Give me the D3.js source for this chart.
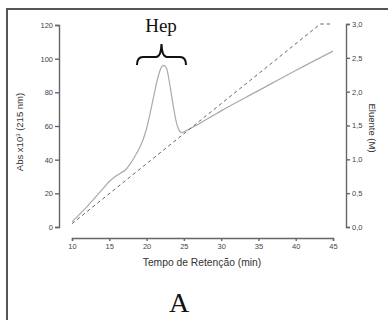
<!DOCTYPE html>
<html>
<head>
<meta charset="utf-8">
<script src="https://cdn.jsdelivr.net/npm/d3@7"></script>
<style>
  body { margin: 0; background: #fff; }
  svg { display: block; }
</style>
</head>
<body>
<div id="chart"></div>
<script>
var width = 388;
var height = 320;

// data
var absTime = [10, 11, 12, 13, 14, 15, 15.8, 16.5, 17.2, 17.8, 18.5, 19, 19.5, 20, 20.5, 21, 21.5, 22, 22.3, 22.7, 23.1, 23.5, 23.9, 24.3, 24.7, 25.2, 30, 35, 40, 45];
var absValue = [3, 7.5, 12, 17, 22, 27, 30, 32, 34, 37.5, 42.5, 46.5, 51.5, 58.5, 68, 78.5, 88.5, 95, 96, 94, 85, 74, 64, 58, 56, 57, 69, 81, 93, 104.5];
var eluTime = [10, 43.3, 45];
var eluValue = [0.05, 3.0, 3.0];
var xTicks = [10, 15, 20, 25, 30, 35, 40, 45];
var yTicks = [0, 20, 40, 60, 80, 100, 120];
var y2Ticks = [0, 0.5, 1.0, 1.5, 2.0, 2.5, 3.0];

var svg = d3.select("#chart")
    .append("svg")
    .attr("width", width)
    .attr("height", height);

// outer frame (cut off on right and bottom)
svg.append("path")
    .attr("d", "M7,320 L7,9 L388,9")
    .attr("fill", "none")
    .attr("stroke", "#555")
    .attr("stroke-width", 2);

var x = d3.scaleLinear().domain([10, 45]).range([72, 333]);
var y = d3.scaleLinear().domain([0, 120]).range([227, 25]);
var y2 = d3.scaleLinear().domain([0, 3]).range([227, 24]);

function styleAxis(g) {
  g.selectAll("path, line").attr("stroke", "#666").attr("stroke-width", 1.4);
  g.selectAll("text").attr("fill", "#444").style("font-family", "Liberation Sans, Arial, sans-serif").style("font-size", "7.5px");
}

svg.append("g")
    .attr("transform", "translate(0,238)")
    .call(d3.axisBottom(x).tickValues(xTicks).tickSizeInner(3).tickSizeOuter(3).tickPadding(3))
    .call(styleAxis);

svg.append("g")
    .attr("transform", "translate(59,0)")
    .call(d3.axisLeft(y).tickValues(yTicks).tickSizeInner(4).tickSizeOuter(4).tickPadding(2))
    .call(styleAxis);

svg.append("g")
    .attr("transform", "translate(346,0)")
    .call(d3.axisRight(y2).tickValues(y2Ticks).tickSizeInner(4).tickSizeOuter(4).tickPadding(2)
      .tickFormat(function(d) { return d3.format(".1f")(d).replace(".", ","); }))
    .call(styleAxis);

// absorbance curve
var absLine = d3.line()
    .x(function(d, i) { return x(absTime[i]); })
    .y(function(d, i) { return y(absValue[i]); })
    .curve(d3.curveMonotoneX);

svg.append("path")
    .datum(absTime)
    .attr("d", absLine)
    .attr("fill", "none")
    .attr("stroke", "#aaa")
    .attr("stroke-width", 1.2);

// eluent gradient
var eluLine = d3.line()
    .x(function(d, i) { return x(eluTime[i]); })
    .y(function(d, i) { return y2(eluValue[i]); });

svg.append("path")
    .datum(eluTime)
    .attr("d", eluLine)
    .attr("fill", "none")
    .attr("stroke", "#666")
    .attr("stroke-width", 1)
    .attr("stroke-dasharray", "3.5,3");

// axis titles
svg.append("text")
    .attr("transform", "translate(23,132) rotate(-90)")
    .attr("text-anchor", "middle")
    .style("font-family", "Liberation Sans, Arial, sans-serif")
    .style("font-size", "9.5px")
    .attr("fill", "#333")
    .html("Abs x10<tspan baseline-shift='super' font-size='6px'>3</tspan> (215 nm)");

svg.append("text")
    .attr("transform", "translate(369,128) rotate(90)")
    .attr("text-anchor", "middle")
    .style("font-family", "Liberation Sans, Arial, sans-serif")
    .style("font-size", "9.5px")
    .attr("fill", "#333")
    .text("Eluente (M)");

svg.append("text")
    .attr("x", 202)
    .attr("y", 266)
    .attr("text-anchor", "middle")
    .style("font-family", "Liberation Sans, Arial, sans-serif")
    .style("font-size", "10.3px")
    .attr("fill", "#333")
    .text("Tempo de Retenção (min)");

// Hep brace
svg.append("path")
    .attr("d", "M137,65 Q137,57 143,57 L156,57 Q161,57 161.5,44 Q162,57 167,57 L180,57 Q186,57 186,65")
    .attr("fill", "none")
    .attr("stroke", "#111")
    .attr("stroke-width", 2);

svg.append("text")
    .attr("x", 161)
    .attr("y", 32)
    .attr("text-anchor", "middle")
    .style("font-family", "Liberation Serif, Times New Roman, serif")
    .style("font-size", "19px")
    .attr("fill", "#111")
    .text("Hep");

svg.append("text")
    .attr("x", 179)
    .attr("y", 312)
    .attr("text-anchor", "middle")
    .style("font-family", "Liberation Serif, Times New Roman, serif")
    .style("font-size", "28px")
    .attr("fill", "#111")
    .text("A");
</script>
</body>
</html>
